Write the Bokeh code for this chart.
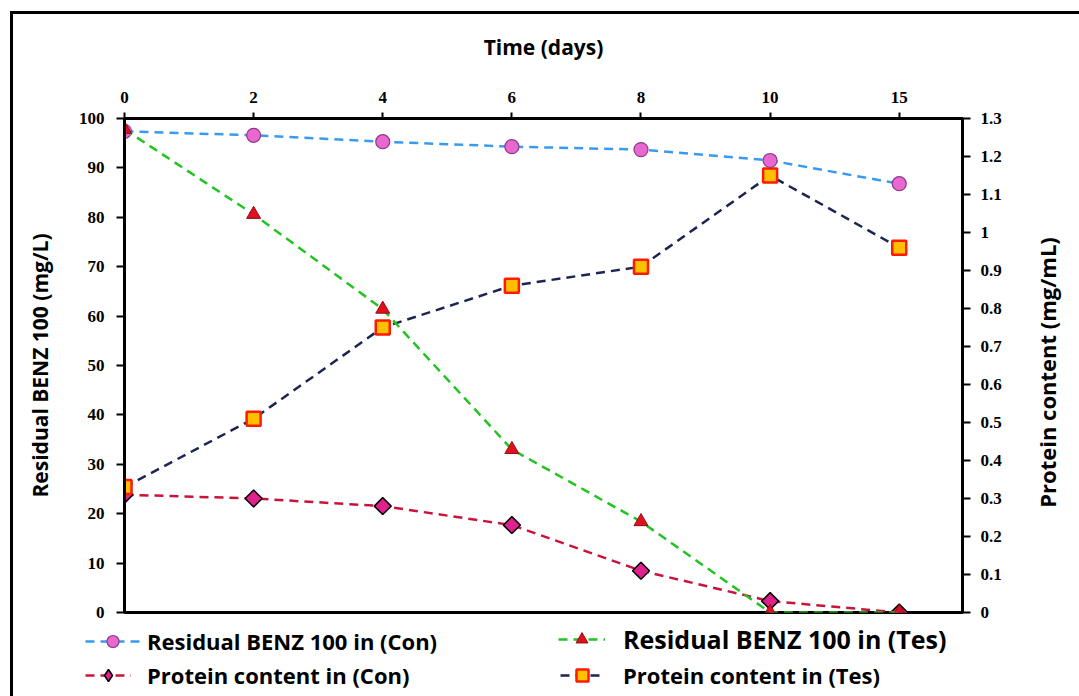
import math
from bokeh.plotting import figure
from bokeh.layouts import column, row
from bokeh.models import (Range1d, LinearAxis, FixedTicker, Legend, LegendItem)
from bokeh.embed import file_html
from bokeh.resources import INLINE

# ---------------- data ----------------
days = ["0", "2", "4", "6", "8", "10", "15"]
residual_con = [97.4, 96.6, 95.3, 94.3, 93.7, 91.5, 86.8]
residual_tes = [97.8, 80.6, 61.4, 33.0, 18.4, 0.0, 0.0]
protein_con = [0.31, 0.30, 0.28, 0.23, 0.11, 0.03, 0.0]
protein_tes = [0.33, 0.51, 0.75, 0.86, 0.91, 1.15, 0.96]

left_ticks = [0, 10, 20, 30, 40, 50, 60, 70, 80, 90, 100]
left_labels = ["0", "10", "20", "30", "40", "50", "60", "70", "80", "90", "100"]
right_ticks = [0.0, 0.1, 0.2, 0.3, 0.4, 0.5, 0.6, 0.7, 0.8, 0.9, 1.0, 1.1, 1.2, 1.3]
right_labels = ["0", "0.1", "0.2", "0.3", "0.4", "0.5", "0.6", "0.7", "0.8", "0.9",
                "1", "1.1", "1.2", "1.3"]

series_names = ["Residual BENZ 100 in (Con)", "Protein content in (Con)",
                "Residual BENZ 100 in (Tes)", "Protein content in (Tes)"]

x_pos = list(range(len(days)))

TICK_FONT = "Liberation Serif"
TITLE_FONT = "Open Sans"

OFF_X, OFF_Y = 13, 14  # outer frame offset (margin + border)
W = 1079 - OFF_X
RW = 70                # strip holding the right-hand axis title
H_MAIN = 609
H_LEG = 696 - OFF_Y - H_MAIN

p = figure(width=W - RW, height=H_MAIN, output_backend="svg",
           toolbar_location=None,
           x_range=Range1d(0, 6.49), y_range=Range1d(0, 100),
           x_axis_location="above",
           min_border_left=124 - OFF_X, min_border_right=(W - RW + OFF_X) - 962,
           min_border_top=118 - OFF_Y, min_border_bottom=H_MAIN - (612 - OFF_Y))
p.frame_align = False
p.grid.visible = False
p.outline_line_color = "black"
p.outline_line_width = 3
p.background_fill_color = "white"
p.border_fill_color = "white"

p.extra_y_ranges = {"prot": Range1d(0, 1.3)}


def style_axis(ax, tick_out):
    ax.axis_label_text_font = TITLE_FONT
    ax.axis_label_text_font_style = "bold"
    ax.axis_label_text_color = "black"
    ax.major_label_text_font = TICK_FONT
    ax.major_label_text_font_style = "bold"
    ax.major_label_text_font_size = "17px"
    ax.major_label_text_color = "black"
    ax.major_tick_out = tick_out
    ax.major_tick_in = 0
    ax.minor_tick_out = 0
    ax.minor_tick_in = 0
    ax.axis_line_width = 3
    ax.axis_line_color = "black"
    ax.major_tick_line_width = 2
    ax.major_tick_line_color = "black"


# x axis (top)
xa = p.xaxis[0]
style_axis(xa, 6)
xa.ticker = FixedTicker(ticks=x_pos)
xa.major_label_overrides = {i: d for i, d in enumerate(days)}
xa.axis_label = "Time (days)"
xa.axis_label_text_font_size = "21px"
xa.axis_label_standoff = 28
xa.major_label_standoff = 10

# left axis
ya = p.yaxis[0]
style_axis(ya, 8)
ya.ticker = FixedTicker(ticks=left_ticks)
ya.major_label_overrides = {t: l for t, l in zip(left_ticks, left_labels)}
ya.axis_label = "Residual BENZ 100 (mg/L)"
ya.axis_label_text_font_size = "21px"
ya.axis_label_standoff = 22
ya.major_label_standoff = 12

# right axis (ticks)
ra = LinearAxis(y_range_name="prot")
style_axis(ra, 8)
ra.ticker = FixedTicker(ticks=right_ticks)
ra.major_label_overrides = {t: l for t, l in zip(right_ticks, right_labels)}
ra.major_label_standoff = 10
p.add_layout(ra, "right")

DASH = "9 6"
styles = {
    "rc": dict(line=dict(line_color="#3A9AF0", line_width=2.5, line_dash=DASH),
               mark=dict(marker="circle", size=14, fill_color="#E868D0",
                         line_color="#8A3A8A", line_width=1.2)),
    "pc": dict(line=dict(line_color="#C8143C", line_width=2.5, line_dash=DASH),
               mark=dict(marker="square", angle=math.pi / 4, size=12,
                         fill_color="#E0208C", line_color="black", line_width=1.5)),
    "rt": dict(line=dict(line_color="#22C322", line_width=2.5, line_dash=DASH),
               mark=dict(marker="triangle", size=14, fill_color="#E0101E",
                         line_color="#901018", line_width=1)),
    "pt": dict(line=dict(line_color="#1C2454", line_width=2.5, line_dash=DASH),
               mark=dict(marker="square", size=14, fill_color="#FFC000",
                         line_color="#FF1A00", line_width=2.5)),
}

# draw order: protein first, residual on top
p.line(x_pos, protein_con, y_range_name="prot", **styles["pc"]["line"])
p.scatter(x_pos, protein_con, y_range_name="prot", **styles["pc"]["mark"])
p.line(x_pos, protein_tes, y_range_name="prot", **styles["pt"]["line"])
p.scatter(x_pos, protein_tes, y_range_name="prot", **styles["pt"]["mark"])
p.line(x_pos, residual_con, **styles["rc"]["line"])
p.scatter(x_pos, residual_con, **styles["rc"]["mark"])
p.line(x_pos, residual_tes, **styles["rt"]["line"])
p.scatter(x_pos, residual_tes, **styles["rt"]["mark"])

# ---------------- right-hand axis title strip ----------------
r = figure(width=RW, height=H_MAIN, output_backend="svg", toolbar_location=None,
           x_axis_type=None, x_range=Range1d(0, 1), y_range=Range1d(0, 1.3),
           min_border_left=52, min_border_right=0,
           min_border_top=132 - OFF_Y, min_border_bottom=H_MAIN - (612 - OFF_Y))
r.frame_align = False
r.grid.visible = False
r.outline_line_color = None
r.background_fill_color = "white"
r.border_fill_color = "white"
rya = r.yaxis[0]
style_axis(rya, 0)
rya.ticker = FixedTicker(ticks=[])
rya.axis_line_alpha = 0
rya.axis_label = "Protein content (mg/mL)"
rya.axis_label_text_font_size = "22px"
rya.axis_label_standoff = 0

# ---------------- legend strip ----------------
q = figure(width=W, height=H_LEG, output_backend="svg", toolbar_location=None,
           x_axis_type=None, y_axis_type=None, x_range=Range1d(0, 1),
           y_range=Range1d(0, 1), min_border=0)
q.frame_align = False
q.grid.visible = False
q.outline_line_color = None
q.background_fill_color = "white"
q.border_fill_color = "white"

legend_marks = dict(styles)
legend_marks["pc"] = dict(line=styles["pc"]["line"],
                          mark=dict(marker="diamond", size=19, fill_color="#E0208C",
                                    line_color="black", line_width=1.5))

# (x, y, glyph_width, standoff, font size) per legend entry
leg_layout = {
    "rc": (85 - OFF_X, 40, 55, 7, "22px"),
    "pc": (85 - OFF_X, 6, 46, 16, "22px"),
    "rt": (558 - OFF_X, 40, 47, 18, "25px"),
    "pt": (560 - OFF_X, 6, 44, 19, "22px"),
}

for key, name in zip(["rc", "pc", "rt", "pt"], series_names):
    lr = q.line([-10, -9], [-10, -10], **legend_marks[key]["line"])
    mr = q.scatter([-10], [-10], **legend_marks[key]["mark"])
    lx, ly, gw, so, fs = leg_layout[key]
    lg = Legend(items=[LegendItem(label=name, renderers=[lr, mr])],
                location=(lx, ly),
                label_text_font=TITLE_FONT, label_text_font_style="bold",
                label_text_font_size=fs, label_text_color="black",
                label_standoff=so, glyph_width=gw, glyph_height=30,
                label_height=30, spacing=0, padding=0, margin=0,
                border_line_alpha=0, background_fill_alpha=0)
    q.add_layout(lg)

layout = column(row(p, r, spacing=0), q, spacing=0,
                styles={"border-top": "3px solid black",
                        "border-left": "3px solid black",
                        "margin-left": "10px", "margin-top": "11px"})

open("out.html", "w").write(file_html(layout, INLINE))
